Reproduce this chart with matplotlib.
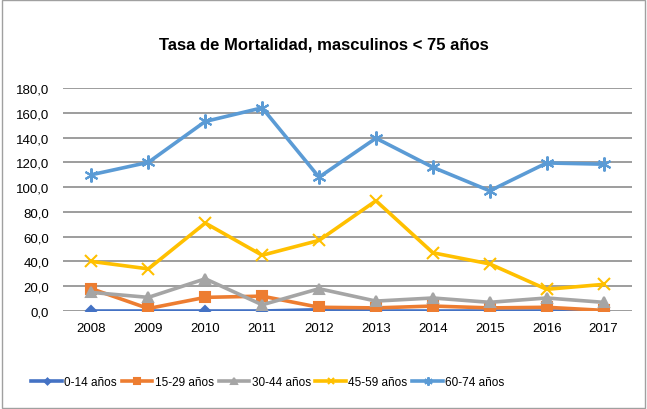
import numpy as np
import matplotlib.pyplot as plt

plt.rcParams['font.family'] = ['Liberation Sans', 'DejaVu Sans']

years = ['2008', '2009', '2010', '2011', '2012', '2013', '2014', '2015', '2016', '2017']
g0_14 = [0.0, 0.0, 0.0, 0.0, 1.0, 0.0, 0.0, 0.0, 0.0, 0.0]
g15_29 = [18.0, 2.0, 11.0, 12.0, 3.0, 2.5, 4.0, 2.5, 3.0, 0.5]
g30_44 = [15.0, 11.0, 26.0, 5.0, 18.0, 8.0, 10.5, 7.0, 10.5, 7.0]
g45_59 = [40.0, 34.0, 71.0, 45.0, 57.0, 89.0, 47.0, 38.0, 17.5, 21.5]
g60_74 = [110.0, 120.0, 153.0, 164.0, 108.0, 139.5, 116.0, 97.0, 119.5, 118.5]
labels = ['0-14 años', '15-29 años', '30-44 años', '45-59 años', '60-74 años']

series = [g0_14, g15_29, g30_44, g45_59, g60_74]
colors = ['#4472C4', '#ED7D31', '#A5A5A5', '#FFC000', '#5B9BD5']
markers = ['D', 's', '^', 'x', (6, 2, 0)]
msizes = [5, 7, 7, 8, 10]

fig = plt.figure(figsize=(6.47, 4.1), dpi=100)
ax = fig.add_axes([63 / 647, 1 - 312 / 410, (632 - 63) / 647, (312 - 89) / 410])

x = np.arange(len(years))
for vals, c, m, ms, lab in zip(series, colors, markers, msizes, labels):
    ax.plot(x, vals, color=c, lw=2.6, marker=m, ms=ms, mew=1.5, label=lab)

ax.set_xlim(-0.5, len(years) - 0.5)
ax.set_ylim(0, 180)
ax.set_yticks(np.arange(0, 181, 20))
ax.set_yticklabels([f'{v:.1f}'.replace('.', ',') for v in range(0, 181, 20)])
ax.set_xticks(x)
ax.set_xticklabels(years)
ax.grid(axis='y', color='#8c8c8c', lw=1.2)
ax.set_axisbelow(True)
for s in ax.spines.values():
    s.set_visible(False)
ax.tick_params(length=0, labelsize=9.5, pad=8)
ax.tick_params(axis='y', pad=10)

fig.text(0.5, 1 - 45 / 410, 'Tasa de Mortalidad, masculinos < 75 años',
         ha='center', va='center', fontsize=12, fontweight='bold')

fig.legend(loc='center', bbox_to_anchor=(268 / 647, 1 - 383 / 410), ncol=5, frameon=False,
           fontsize=8.5, handlelength=2.6, columnspacing=0.4, handletextpad=0.2,
           markerscale=0.6)

fig.patches.append(plt.Rectangle((0.003, 0.003), 0.994, 0.994, transform=fig.transFigure,
                                 fill=False, edgecolor='#a0a0a0', lw=1))

fig.savefig('out.png', dpi=100)
